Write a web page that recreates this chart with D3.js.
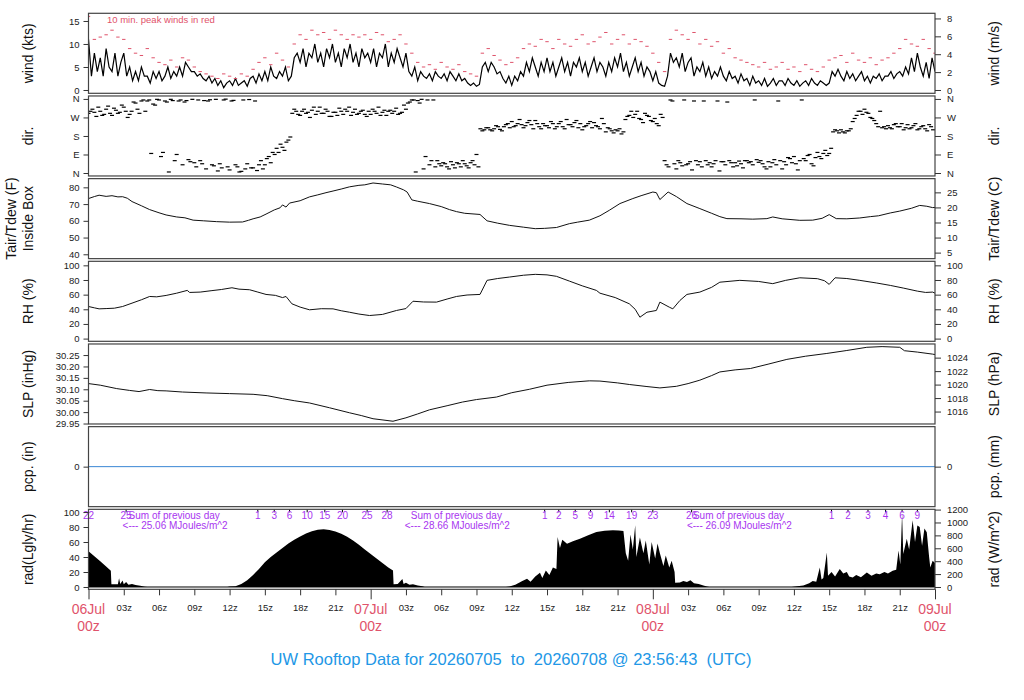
<!DOCTYPE html>
<html lang="en">
<head>
<meta charset="UTF-8">
<title>UW Rooftop Data</title>
<script src="https://cdn.jsdelivr.net/npm/d3@7/dist/d3.min.js"></script>
<style>
    body { margin: 0; background: #fff; }
    svg { font-family: "Liberation Sans", Arial, Helvetica, sans-serif; }
    .axis text { font-size: 9.5px; fill: #222; }
    .axis line { stroke: #333; }
    .ytitle { font-size: 14px; fill: #111; }
    .box { fill: none; stroke: #444; stroke-width: 1.2; }
</style>
</head>
<body>
<svg id="chart" width="1024" height="700"></svg>
<script>
// ---- data (hours since 06Jul 00z) ----
// wind speed, kts, every 15 min
const windKts = [
    11,3,8,4, 7,3,9,5, 4,8,3,6,
    8,3,5,2, 4,2,5,3, 3,1.5,4,2.5,
    4,2,3,5, 2.5,4,3,5, 3,6,5,4,
    4,3,3.5,2.5, 2,3,1.5,2.5, 1,2,0.5,1.5,
    2,1,2.5,1, 1.5,2,0.8,2.5, 3,1.5,3.5,2,
    4,2,5,3, 2.5,4,3,5, 2,3,7,8,
    6,9,5,8, 7,10,6,8, 5,9,7,10,
    6,8,5,9, 7,10,6,8, 5,9,7,8,
    6,9,5,8, 7,10,5,8, 6,9,7,5,
    8,4,3,5, 2,4,3,2.5, 3.5,2,4,3,
    2.5,3.5,2,4, 3,2,3.5,2, 2.5,1.5,1,1.5,
    0.8,1.2,5,6, 4,6,5,3.5, 4,2.5,1.5,3,
    1,3,2,4, 3,6,4,7, 5,3,6,4,
    7,4,6,3, 5,7,4,6, 3,6,5,7,
    4,6,3,5, 7,4,6,5, 3,6,4,7,
    5,8,4,6, 3,5,7,4, 6,3,5,4,
    2,4,1.5,1, 0.8,3,8,6, 7,5,8,4,
    6,7,3,5, 4,6,3,5, 2.5,4,3,5,
    3,2,4,2.5, 3,1.5,3.5,2, 2.5,1,3,1.5,
    2,1,2.5,0.8, 1.5,2.5,1,2, 2,1,2.5,1.5,
    1,2,0.8,1.5, 2,1,2.5,1.5, 1,2,1.5,1,
    1.5,4,3,4.5, 3,2,4,2.5, 3.5,2,3,4,
    2,3,1.5,3, 2.5,3.5,2,3, 3,4,2.5,3.5,
    4,3,5,3.5, 7,4,8,5, 3,6,2.5,7,
    4
];
const windStep = 0.25;

// 10 min peak wind, kts, every 30 min
const gustKts = [
    16,11, 11.5,12, 13,11.5,
    11,9, 8,7.5, 9,7,
    6,5.5, 6.5,5, 7,6.5,
    5,4, 3.5,3, 2.5,3.5,
    3,2.5, 3.5,3, 4.5,6,
    7,5.5, 8,6.5, 5,10,
    12,11, 13,12, 12.5,11,
    13,12, 11,12, 11.5,12,
    11,12.5, 12,10.5, 11,12,
    10,8, 6,5, 5.5,4.5,
    6,5, 4.5,5.5, 4,3.5,
    3,8, 9,7.5, 6.5,5.5,
    6,7, 9,10, 9.5,11,
    10.5,9, 11,10, 9.5,11,
    12,10, 10.5,11.5, 12.5,10,
    11,12, 10,11, 10.5,9.5,
    8,6, 4,11, 13,12,
    11,12.5, 10,11, 9.5,10.5,
    8,9, 7,6.5, 6,5.5,
    5,6, 4.5,5, 6,4.5,
    5,4, 5.5,4.5, 4,5,
    6.5,7, 7.5,6, 8,6.5,
    6,7, 5.5,6.5, 7,8,
    9,11, 10,9.5, 11,9,
    8
];
const gustStep = 0.5;

// wind direction, degrees, every 10 min
const dirDeg = [
    290,300,310,295,275,320, 300,280,285,310,325,290, 280,315,305,290,295,330,
    320,300,270,285,300,345, 340,310,290,350,355,300, 350,355,95,335,330,358,
    355,80,100,350,345,5, 358,352,60,90,350,355, 40,345,352,65,55,358,
    50,30,355,60,45,352, 20,350,356,40,35,358, 10,45,25,355,359,30,
    15,350,353,40,30,5, 8,355,20,45,357,25, 25,350,12,40,60,20,
    40,70,80,50,100,90, 120,100,140,125,110,150, 160,175,290,310,300,285,
    280,300,310,290,295,270, 305,320,285,300,320,290, 290,310,300,275,275,295,
    295,280,315,300,285,310, 300,320,280,295,310,285, 290,300,305,285,275,300,
    285,310,300,290,320,280, 295,305,280,300,305,290, 300,315,285,290,295,330,
    310,340,345,355,355,5, 352,340,358,20,80,355, 40,60,355,30,60,45,
    35,50,45,30,20,55, 40,25,50,45,30,60, 45,35,25,50,60,40,
    90,30,215,205,210,220, 220,210,205,215,230,225, 212,205,225,235,240,220,
    250,225,230,240,260,235, 220,230,245,255,235,215, 255,240,225,215,240,230,
    230,220,250,240,215,225, 240,250,225,215,260,235, 235,225,245,255,220,240,
    210,225,230,240,250,220, 245,230,225,215,265,240, 200,220,215,205,195,210,
    205,215,190,200,260,275, 280,300,270,285,300,265, 260,245,290,280,275,255,
    250,265,240,230,285,270, 60,40,30,355,350,45, 20,60,50,35,355,40,
    45,55,15,350,60,40, 55,30,350,60,40,50, 30,45,60,350,10,55,
    55,40,345,60,50,30, 50,35,58,45,25,60, 60,50,55,40,355,65,
    52,60,45,30,20,55, 30,50,65,40,350,60, 20,55,40,75,70,50,
    80,45,15,60,355,70, 60,85,90,45,35,75, 100,80,70,95,110,85,
    95,120,200,210,205,195, 210,200,195,205,205,215, 250,265,280,300,300,285,
    310,295,290,270,265,255, 240,225,300,220,225,215, 230,220,215,235,240,225,
    225,240,210,220,235,215, 220,230,240,210,215,225, 230,215,205,235,225,210
];
const dirStep = 1 / 6;

// inside box temperature, F  [hour, value]
const tempF = [
    [0,73.3],[0.5,74.5],[0.9,75.3],[1.5,74.6],[2,75],[2.5,74.3],[2.9,74.4],[3.3,73.5],[3.7,71.5],
    [4.5,69],[5.2,66.7],[6,64.8],[6.6,63.5],[7.5,62.3],[8.2,61.8],[8.9,60.4],[9.8,60],[10.9,59.5],
    [12,59.2],[13.1,59.3],[13.6,60.3],[14,61.2],[14.6,62.3],[15.1,64],[15.8,66.5],[16.3,67.8],
    [16.5,69.5],[16.8,68.2],[17.1,70.6],[18,72],[18.8,74.3],[19.5,75.5],[20.2,76.8],[20.8,77.8],
    [21.5,79],[22.2,80.3],[23,81.2],[23.5,81.5],[24.2,82.6],[25,82],[25.7,81.5],[26.2,80.2],
    [26.8,78.5],[27.1,77.2],[27.5,72.5],[28,71.7],[29,70.3],[30,68.5],[30.7,66.7],[31.3,65.5],
    [32,64.5],[33.3,63.8],[33.9,60],[34.8,58.6],[35.8,57.3],[37,56.2],[38,55.3],[38.8,55.5],
    [39.8,56],[40.9,58.3],[41.6,59.2],[42.6,60.4],[43.5,63],[44.3,66.3],[45.2,70.3],[46.3,73.3],
    [47,75],[48,77.2],[48.3,76.8],[48.6,72.7],[49.3,77.2],[50,74.5],[50.9,70.3],[52,67.3],
    [53,64.5],[53.7,62.5],[54.3,61.3],[55.5,61.2],[56.5,61],[57.7,61.3],[58.2,62.3],[59,61.2],
    [60.5,60.3],[61.6,60.4],[62.4,61.5],[63,63.7],[63.6,61.3],[64.5,61.2],[65.6,61.7],[66.5,62.5],
    [67.2,63],[68.2,64.7],[69,65.8],[70,67.5],[70.7,69.2],[71.3,68.7],[71.8,67.9],[72,68]
];

// relative humidity, %  [hour, value]
const rhPct = [
    [0,43.8],[0.5,42],[0.9,40.6],[1.5,41],[2.2,41.5],[2.9,43.8],[3.7,48.4],[4.5,53],[5.2,57.5],
    [5.8,57],[6.6,58.9],[7.5,62],[8.4,65.8],[8.6,63],[9.5,63.5],[10.5,65.5],[11.3,67],[12.2,69.4],
    [12.8,67.5],[13.7,66.7],[14.4,63.5],[15.1,60.3],[15.9,59],[16.5,56],[16.8,57.5],[17.3,47.5],
    [18,43],[18.8,39.3],[19.8,40.8],[20.8,40.6],[21.5,38],[22.2,36],[23,33.5],[23.9,31.5],[25,33],
    [26.2,38.4],[27,41],[27.6,51],[28.5,50],[29.6,49.8],[30.5,54],[31.3,57.5],[32.2,59.5],
    [33.3,60.3],[33.9,79.5],[34.8,82],[35.8,84],[37,86.5],[38,87.7],[39,87],[39.8,85],[40.9,78.5],
    [42,72],[43.2,65.8],[43.5,62],[44.8,56],[46,47.5],[46.5,40],[46.9,29.2],[47.5,36],[48.3,38.4],
    [48.6,49.8],[49.4,42.9],[49.7,40.6],[50.3,52],[50.9,60.3],[52,63.5],[53,70],[53.7,77],
    [55.4,79.5],[57,78],[58.2,75],[59.3,79.5],[60.5,83],[62,81.8],[62.6,79],[63,74],[63.5,83],
    [64.5,82],[65.6,79.5],[67,76],[68.2,72.6],[69.3,69],[70.5,64.8],[71.2,63],[71.8,63.5],[72,62]
];

// sea level pressure, inHg  [hour, value]
const slpIn = [
    [0,30.125],[1,30.118],[2.4,30.103],[3.5,30.095],[4.3,30.09],[5.2,30.099],[5.9,30.094],
    [6.6,30.093],[8,30.088],[10,30.084],[12,30.081],[14,30.078],[15.2,30.072],[16.5,30.059],
    [17.5,30.05],[18.8,30.04],[20.5,30.019],[22.2,29.997],[23.2,29.985],[24.2,29.971],[25.9,29.96],
    [27,29.975],[28,29.992],[29,30.01],[30.5,30.028],[31.8,30.044],[33,30.055],[34.7,30.066],
    [36,30.085],[37.5,30.1],[39,30.118],[40.8,30.13],[42.6,30.137],[43.5,30.136],[45,30.128],
    [46,30.121],[47.5,30.112],[48.6,30.106],[50,30.113],[51,30.125],[52,30.14],[53,30.16],
    [53.7,30.176],[55,30.185],[56.3,30.191],[57.8,30.21],[59.4,30.231],[61,30.245],[62.8,30.257],
    [64.5,30.27],[66.2,30.284],[67.5,30.287],[69,30.284],[69.4,30.269],[70.5,30.263],[71.8,30.254],
    [72,30.252]
];

// precipitation, in  [hour, value]
const pcpIn = [[0, 0], [72, 0]];

// solar radiation, Langley/hr  [hour, value]
const radLgly = [
    [0,47.7],[0.5,41],[1,34.5],[1.5,27.5],[1.9,21.6],[1.95,3.5],[2.5,3.8],[2.6,11.5],[2.7,4],
    [2.9,8.5],[3,3.5],[3.2,6.5],[3.4,3],[3.7,4],[4,2.5],[4.4,1.5],[4.8,0.4],[5,0],
    [11.8,0],[12,0.5],[12.5,1],[13,4],[13.5,9],[14,16],[14.5,24],[15,33],[15.5,40],[16,46],
    [16.5,52],[17,58],[17.5,63],[18,67.5],[18.5,71.5],[19,74.5],[19.5,76.5],[20,77],[20.5,76],
    [21,74],[21.5,71],[22,67],[22.5,62],[23,56.5],[23.5,50],[24,44],[24.5,38],[25,32],[25.5,26],
    [25.9,22],[25.95,3.5],[26.3,4],[26.7,10.8],[26.8,4],[27,5.5],[27.3,3],[27.6,3.5],[28,2],
    [28.4,1],[28.6,0],
    [35.5,0],[35.8,0.5],[36.3,3],[36.9,8],[37.3,11],[37.6,7],[38,14],[38.4,19],[38.6,12],[38.9,22],
    [39.2,16],[39.5,26],[39.8,24],[39.9,66.6],[40.1,52],[40.3,63],[40.7,57.7],[41.2,61],[41.8,64.4],
    [42.5,69],[43.2,73.4],[43.9,75],[44.6,75.7],[45.1,75.5],[45.5,74.7],[45.7,45],[45.9,35],
    [46.1,70],[46.3,50],[46.5,82.4],[46.6,40],[46.9,66],[47.2,45],[47.4,62],[47.7,30],[47.9,60],
    [48.2,38],[48.4,58],[48.6,45],[48.9,28],[49.1,42],[49.4,26],[49.6,35],[49.85,20],[49.9,5.8],
    [50.3,6],[50.6,8],[50.9,6.5],[51.2,9],[51.5,5],[51.9,4],[52.3,2],[52.6,0.5],[52.8,0],
    [59.8,0],[60.1,0.5],[60.8,2],[61.3,5],[61.6,8],[61.9,7],[62.2,26],[62.35,10],[62.5,12],
    [62.8,46],[62.9,15],[63.2,20],[63.5,14],[63.9,24],[64.2,18],[64.5,20],[64.7,14],[65,12.6],
    [65.3,16],[65.7,13],[66.2,19.3],[66.6,15],[67,18],[67.3,17],[67.7,20],[68,18],[68.4,21.6],
    [68.7,23],[68.9,48.6],[69.05,30],[69.2,98],[69.3,44],[69.6,64.5],[69.8,50],[70.1,89],
    [70.3,60],[70.5,82],[70.7,80],[70.9,55],[71.1,78],[71.3,73],[71.5,40],[71.6,26],[71.8,35],
    [72,32]
];

// cumulative daily radiation marks, MJ/m^2  [hour, label]
const radCumLabels = [
    [0,"22"],[3.2,"25"],
    [14.4,"1"],[15.8,"3"],[17.1,"6"],[18.6,"10"],[20.1,"15"],[21.6,"20"],[23.7,"25"],[25.4,"28"],
    [38.8,"1"],[40,"2"],[41.4,"5"],[42.7,"9"],[44.3,"14"],[46.2,"19"],[48,"23"],[51.3,"26"],
    [63.2,"1"],[64.6,"2"],[66.3,"3"],[67.8,"4"],[69.2,"6"],[70.5,"9"]
];
// daily totals, MJ/m^2  [hour, total]
const radDayTotals = [[2.9, "25.06"], [26.9, "28.66"], [50.9, "26.09"]];

// tick labels
const xTickHours = d3.range(0, 73, 3);
const dayHours = [0, 24, 48, 72];
const dayNames = ["06Jul", "07Jul", "08Jul", "09Jul"];
const windTicksKts = [0, 5, 10, 15];
const windTicksMs = [0, 2, 4, 6, 8];
const dirTicks = [0, 90, 180, 270, 360];
const dirNames = ["N", "E", "S", "W", "N"];
const tempTicksF = [40, 50, 60, 70, 80];
const tempTicksC = [5, 10, 15, 20, 25];
const rhTicks = [0, 20, 40, 60, 80, 100];
const slpTicksIn = [29.95, 30.00, 30.05, 30.10, 30.15, 30.20, 30.25];
const slpTicksHpa = [1016, 1018, 1020, 1022, 1024];
const radTicksLgly = [0, 20, 40, 60, 80, 100];
const radTicksW = [0, 200, 400, 600, 800, 1000, 1200];
const titleText = "UW Rooftop Data for 20260705  to  20260708 @ 23:56:43  (UTC)";

// ---- layout ----
const svg = d3.select("#chart");
const red = "#DF536B", blue = "#2297E6", purple = "#A835F0";
const x = d3.scaleLinear().domain([0, 72]).range([88.5, 935]);
const panelH = 80;
const panelTop = i => 13.3 + i * 82.67;
const makeY = (i, lo, hi) => d3.scaleLinear().domain([lo, hi]).range([panelTop(i) + panelH, panelTop(i)]);

const KTS_PER_MS = 1.94384, HPA_PER_IN = 33.8639, W_PER_LGLY = 11.622;
const fToC = f => (f - 32) * 5 / 9;

const yWind = makeY(0, -0.72, 16.67);
const yWindMs = makeY(0, -0.72 / KTS_PER_MS, 16.67 / KTS_PER_MS);
const yDir = makeY(1, -14.4, 374.4);
const yTemp = makeY(2, 37.4, 85.2);
const yTempC = makeY(2, fToC(37.4), fToC(85.2));
const yRh = makeY(3, -3.7, 105.5);
const ySlp = makeY(4, 29.948, 30.2985);
const ySlpHpa = makeY(4, 29.948 * HPA_PER_IN, 30.2985 * HPA_PER_IN);
const yPcp = makeY(5, -1, 1);
const yRad = makeY(6, -3.1, 103.6);
const yRadW = makeY(6, -3.1 * W_PER_LGLY, 103.6 * W_PER_LGLY);

// clip per panel
const defs = svg.append("defs");
d3.range(7).forEach(i => {
    defs.append("clipPath").attr("id", "clip" + i)
        .append("rect").attr("x", x(0)).attr("y", panelTop(i))
        .attr("width", x(72) - x(0)).attr("height", panelH);
});
const panel = i => svg.append("g").attr("clip-path", `url(#clip${i})`);

// wind
const gWind = panel(0);
gWind.append("path")
    .datum(windKts)
    .attr("fill", "none").attr("stroke", "#000").attr("stroke-width", 1.2)
    .attr("d", d3.line().x((d, i) => x(i * windStep)).y(d => yWind(d)));
gWind.selectAll("rect").data(gustKts).enter().append("rect")
    .attr("x", (d, i) => x(i * gustStep) - 1.7).attr("y", d => yWind(d) - 0.5)
    .attr("width", 3.4).attr("height", 1).attr("fill", red);
svg.append("text")
    .attr("x", 107).attr("y", 22.7)
    .attr("font-size", 9.5).attr("fill", red)
    .text("10 min. peak winds in red");

// direction
panel(1).selectAll("rect").data(dirDeg).enter().append("rect")
    .attr("x", (d, i) => x(i * dirStep) - 2).attr("y", d => yDir(d) - 0.6)
    .attr("width", 4).attr("height", 1.2).attr("fill", "#000");

// simple series lines
function seriesLine(i, data, y, color) {
    panel(i).append("path")
        .datum(data)
        .attr("fill", "none").attr("stroke", color).attr("stroke-width", 1)
        .attr("d", d3.line().x(d => x(d[0])).y(d => y(d[1])));
}
seriesLine(2, tempF, yTemp, "#111");
seriesLine(3, rhPct, yRh, "#111");
seriesLine(4, slpIn, ySlp, "#111");
seriesLine(5, pcpIn, yPcp, "#3a86d4");

// radiation
panel(6).append("path")
    .datum(radLgly)
    .attr("fill", "#000")
    .attr("d", d3.area().x(d => x(d[0])).y0(yRad(0)).y1(d => yRad(d[1])));
panel(6).append("line")
    .attr("x1", x(0)).attr("x2", x(72)).attr("y1", yRad(0)).attr("y2", yRad(0))
    .attr("stroke", "#000").attr("stroke-width", 1);

const radTop = panelTop(6);
svg.selectAll(".cumtick").data(radCumLabels).enter().append("line")
    .attr("x1", d => x(d[0])).attr("x2", d => x(d[0]))
    .attr("y1", radTop).attr("y2", radTop + 3)
    .attr("stroke", "#000");
svg.selectAll(".cumlabel").data(radCumLabels).enter().append("text")
    .attr("x", d => x(d[0])).attr("y", radTop + 9.2)
    .attr("text-anchor", "middle").attr("font-size", 10).attr("fill", purple)
    .text(d => d[1]);
radDayTotals.forEach(d => {
    svg.append("text")
        .attr("x", x(d[0]) + 6).attr("y", radTop + 9.2)
        .attr("font-size", 10).attr("fill", purple)
        .text("Sum of previous day");
    svg.append("text")
        .attr("x", x(d[0])).attr("y", radTop + 19.2)
        .attr("font-size", 10).attr("fill", purple)
        .text(`<--- ${d[1]} MJoules/m^2`);
});

// boxes
d3.range(7).forEach(i => {
    svg.append("rect").attr("class", "box")
        .attr("x", x(0)).attr("y", panelTop(i))
        .attr("width", x(72) - x(0)).attr("height", panelH);
});

// y axes
function yAxis(scale, values, fmt, side) {
    const ax = side === "left"
        ? d3.axisLeft(scale).tickSize(5).tickPadding(4)
        : d3.axisRight(scale).tickSize(6).tickPadding(6);
    ax.tickValues(values).tickFormat(fmt);
    const g = svg.append("g").attr("class", "axis")
        .attr("transform", `translate(${side === "left" ? x(0) : x(72)},0)`)
        .call(ax);
    g.attr("font-size", null).attr("font-family", null);
    g.select(".domain").remove();
}
const num = d3.format("d");
yAxis(yWind, windTicksKts, num, "left");
yAxis(yWindMs, windTicksMs, num, "right");
yAxis(yDir, dirTicks, (d, i) => dirNames[i], "left");
yAxis(yDir, dirTicks, (d, i) => dirNames[i], "right");
yAxis(yTemp, tempTicksF, num, "left");
yAxis(yTempC, tempTicksC, num, "right");
yAxis(yRh, rhTicks, num, "left");
yAxis(yRh, rhTicks, num, "right");
yAxis(ySlp, slpTicksIn, d3.format(".2f"), "left");
yAxis(ySlpHpa, slpTicksHpa, num, "right");
yAxis(yPcp, [0], num, "left");
yAxis(yPcp, [0], num, "right");
yAxis(yRad, radTicksLgly, num, "left");
yAxis(yRadW, radTicksW, num, "right");

// x axis
const xAxisG = svg.append("g").attr("class", "axis")
    .attr("transform", `translate(0,${panelTop(6) + panelH})`)
    .call(d3.axisBottom(x).tickValues(xTickHours).tickSize(6).tickPadding(9)
        .tickFormat(h => h % 24 === 0 ? "" : d3.format("02d")(h % 24) + "z"));
xAxisG.attr("font-size", null).attr("font-family", null);
xAxisG.select(".domain").remove();
xAxisG.selectAll(".tick line").attr("y2", h => h % 24 === 0 ? 10 : 6);

const dayG = svg.selectAll(".day").data(dayHours).enter().append("g")
    .attr("transform", h => `translate(${x(h)},0)`);
dayG.append("text").attr("y", 614.3).attr("text-anchor", "middle")
    .attr("font-size", 14).attr("fill", red).text((h, i) => dayNames[i]);
dayG.append("text").attr("y", 631).attr("text-anchor", "middle")
    .attr("font-size", 14).attr("fill", red).text("00z");

// axis titles
function yTitle(xPos, i, txt) {
    svg.append("text").attr("class", "ytitle")
        .attr("transform", `translate(${xPos},${panelTop(i) + panelH / 2}) rotate(-90)`)
        .attr("text-anchor", "middle").attr("dy", "0.35em")
        .text(txt);
}
const leftTitles = ["wind (kts)", "dir.", null, "RH (%)", "SLP (inHg)", "pcp. (in)", "rad(Lgly/hr)"];
const rightTitles = ["wind (m/s)", "dir.", "Tair/Tdew (C)", "RH (%)", "SLP (hPa)", "pcp. (mm)", "rad (W/m^2)"];
leftTitles.forEach((t, i) => { if (t) yTitle(28, i, t); });
yTitle(11, 2, "Tair/Tdew (F)");
yTitle(28, 2, "Inside Box");
rightTitles.forEach((t, i) => yTitle(994, i, t));

// title
svg.append("text")
    .attr("x", 511).attr("y", 665)
    .attr("text-anchor", "middle")
    .attr("font-size", 16.5).attr("fill", blue)
    .style("white-space", "pre")
    .text(titleText);
</script>
</body>
</html>
